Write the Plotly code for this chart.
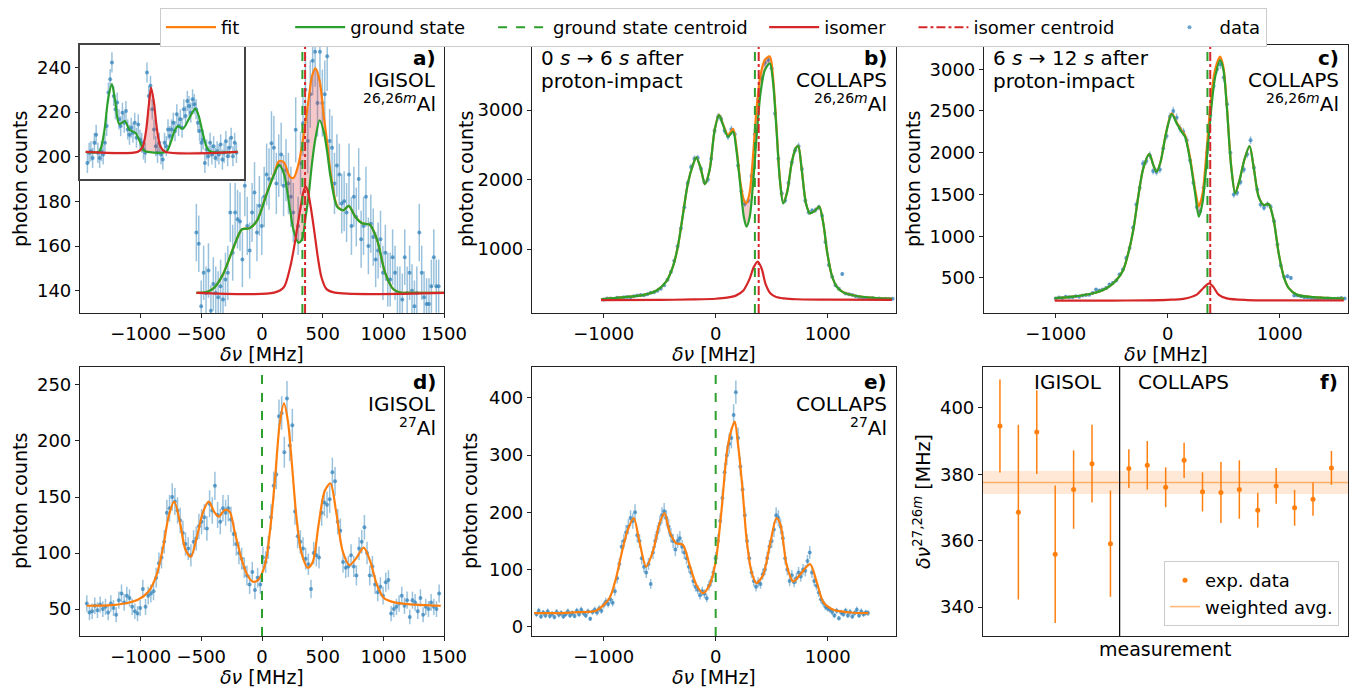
import numpy as np
import plotly.graph_objects as go

W, H = 1353, 688
FONT = "DejaVu Sans"
BLUE, ORANGE, GREEN, RED = "#1f77b4", "#ff7f0e", "#2ca02c", "#d62728"
DATA_MK = "rgba(31,119,180,0.65)"
DATA_ER = "rgba(31,119,180,0.45)"
PINK = "rgba(214,39,40,0.25)"

# ---------------- panel a : IGISOL 26,26mAl ----------------
a_scan = (-541, 1456)
a_counts = [166, 161, 133, 148, 139, 149, 131, 143, 139, 137,
            142, 136, 145, 148, 175, 157, 175, 172, 171, 154,
            187, 169, 158, 175, 184, 166, 178, 169, 182, 192,
            190, 206, 204, 188, 196, 201, 187, 194, 188, 182,
            175, 212, 169, 197, 215, 230, 207, 228, 243, 247,
            224, 247, 224, 228, 245, 207, 204, 188, 196, 192,
            179, 180, 175, 192, 169, 182, 173, 190, 163, 169,
            182, 160, 170, 164, 154, 158, 163, 148, 157, 145,
            145, 155, 148, 139, 139, 136, 155, 139, 148, 140,
            133, 139, 166, 148, 137, 134, 134, 142, 155, 142,
            142]
a_curve_x = [-540, -450, -400, -320, -230, -165, -100, -40, 40, 100,
             140, 180, 230, 260, 300, 330, 357, 385, 412, 440,
             475, 510, 540, 565, 620, 670, 715, 770, 825, 890,
             950, 1015, 1085, 1140, 1250, 1500]
a_ground = [139, 139.5, 141, 147.5, 160, 167.5, 168, 171.5, 183.5, 192,
            196.3, 192.5, 176.5, 167, 161.5, 163, 172, 183, 197, 208,
            216.3, 211, 201, 191, 177.5, 176, 178, 173, 170.2, 169.5,
            162.5, 148, 140.5, 139.2, 139, 139]
a_fit = [139, 139.5, 141, 147.5, 160, 167.5, 168, 171.5, 183.8, 192.5,
         198, 197.5, 191, 190.5, 196.5, 205, 215, 226, 236, 239.5,
         234, 218, 205, 193, 178, 176, 178, 173, 170.2, 169.5,
         162.5, 148, 140.5, 139.2, 139, 139]
a_iso_x = [-540, 100, 180, 230, 260, 290, 320, 340, 358, 375, 400, 430, 460, 490, 530, 600, 1500]
a_iso = [139, 139.1, 141.5, 150, 158, 168, 178, 184, 186.6, 185, 178, 167, 155, 146, 140.8, 139.1, 139]
a_gs_centroid, a_iso_centroid = 333, 355
a_yrange = [130, 250]
a_yticks = [140, 160, 180, 200, 220, 240]

# inset of panel a (arbitrary units)
ins_scan = (-1456, 1452)
ins_counts = [12, 19.5, 20.75, 15.75, 27, 33, 19.5, 15.75, 20.75, 18.25,
              27, 39.5, 64.5, 74.5, 87, 62, 52, 57, 44.5, 39.5,
              49.5, 42, 50.75, 37, 33, 38.25, 34.5, 42, 30.75, 40.75,
              29.5, 27, 22, 19.5, 79.5, 62, 69.5, 52, 37, 24.5,
              19.5, 27, 18.25, 14.5, 27, 24.5, 37, 32, 37, 42,
              35.75, 48.25, 39.5, 44.5, 38.25, 52, 47, 58.25, 54.5, 49.5,
              59.5, 55.75, 52, 42, 35.75, 27, 29.5, 12, 22, 17,
              27, 18.25, 24.5, 15.75, 20.75, 18.25, 25.75, 14.5, 19.5, 28.25,
              17, 23.25, 30.75, 17, 27, 19.5]
ins_err = 7.5
ins_ground_x = [-1489, -1227, -1129, -1050, -978, -913, -834, -723, -638, -507, -422, -357, -278,
                82, 167, 245, 311, 409, 540, 651, 717, 802, 887, 965, 1476]
ins_ground = [20.25, 20.5, 35, 60, 70.75, 58, 41, 43.25, 37, 34, 27, 21.5, 20.25,
              20.25, 27, 35.75, 39.5, 37.5, 46, 52.5, 47, 33, 22.5, 20.25, 20.25]
ins_iso_x = [-1489, -474, -376, -311, -258, -213, -160, -101, -29, 62, 1476]
ins_iso = [20.25, 20.25, 24, 36, 55, 68.25, 58, 38, 24, 20.3, 20.25]
ins_base = 20.25

# ---------------- panel b : COLLAPS 0-6 s ----------------
b_scan = (-1000, 30)
b_counts = [275, 290, 290, 285, 300, 295, 305, 310, 305, 320,
            330, 340, 335, 350, 370, 380, 400, 430, 480, 560,
            670, 830, 1040, 1300, 1600, 1950, 2180, 2300, 2310, 2150,
            1960, 2000, 2300, 2700, 2900, 2870, 2700, 2620, 2720, 2650,
            2200, 1830, 1650, 1700, 2050, 2650, 3150, 3450, 3680, 3720,
            3600, 2950, 2300, 1800, 1700, 1950, 2250, 2420, 2480, 2150,
            1700, 1530, 1550, 1560, 1600, 1480, 1100, 770, 600, 480,
            430, 640, 360, 350, 340, 320, 310, 300, 300, 290,
            295, 280, 290, 280, 285, 280, 285]
b_curve_x = [-1024, -830, -651, -531, -442, -382, -337, -293, -248, -203,
             -173, -134, -96, -54, -9, 30, 66, 110, 155, 185,
             221, 251, 275, 304, 334, 364, 400, 439, 484, 513,
             543, 573, 603, 639, 678, 714, 737, 767, 806, 842,
             887, 925, 961, 997, 1036, 1081, 1140, 1260, 1439, 1573]
b_ground = [276, 305, 338, 400, 530, 746, 1043, 1489, 1945, 2209,
            2319, 2161, 1935, 2137, 2712, 2928, 2784, 2616, 2688, 2424,
            1897, 1465, 1321, 1465, 1945, 2592, 3240, 3576, 3671, 3384,
            2712, 1993, 1657, 1825, 2233, 2448, 2482, 2161, 1657, 1513,
            1552, 1609, 1369, 938, 626, 458, 377, 324, 295, 285]
b_fit = [276, 305, 338, 400, 530, 746, 1043, 1489, 1945, 2209,
         2319, 2161, 1935, 2140, 2715, 2935, 2795, 2640, 2730, 2470,
         1960, 1710, 1660, 1820, 2350, 3000, 3500, 3720, 3770, 3450,
         2750, 2015, 1665, 1828, 2235, 2450, 2484, 2162, 1658, 1514,
         1553, 1610, 1370, 939, 627, 459, 378, 325, 296, 286]
b_iso_x = [-1024, -500, -200, 0, 100, 180, 245, 300, 340, 375, 410, 445, 490, 540, 610, 722, 1000, 1573]
b_iso = [266, 268, 275, 285, 300, 330, 400, 560, 740, 818, 720, 500, 360, 310, 290, 278, 271, 268]
b_gs_centroid, b_iso_centroid = 350, 384
b_yrange = [80, 3935]
b_yticks = [1000, 2000, 3000]

# ---------------- panel c : COLLAPS 6-12 s ----------------
c_scan = (-1000, 30)
c_counts = [255, 265, 260, 275, 270, 270, 280, 275, 290, 295,
            300, 320, 360, 350, 360, 380, 420, 440, 470, 540,
            600, 740, 860, 1100, 1380, 1580, 1870, 1900, 1970, 1780,
            1770, 1800, 2050, 2200, 2430, 2500, 2420, 2290, 2250, 2150,
            1910, 1640, 1350, 1300, 1580, 2000, 2450, 2800, 3000, 3060,
            2900, 2580, 2000, 1500, 1520, 1650, 1800, 1980, 2150, 1820,
            1560, 1380, 1340, 1380, 1350, 1180, 900, 650, 510, 520,
            500, 290, 290, 280, 270, 265, 260, 255, 250, 255,
            250, 255, 245, 250, 255, 260, 255]
c_curve_x = [-1009, -845, -666, -546, -457, -397, -352, -307, -263, -218,
             -164, -128, -99, -63, -15, 36, 81, 125, 155, 200,
             245, 278, 310, 349, 385, 424, 469, 498, 528, 567,
             603, 642, 684, 731, 767, 812, 857, 901, 946, 991,
             1036, 1081, 1155, 1304, 1573]
c_ground = [257, 277, 317, 377, 476, 596, 795, 1074, 1473, 1812,
            1983, 1852, 1772, 1892, 2230, 2462, 2350, 2250, 2191, 1912,
            1513, 1234, 1393, 1912, 2470, 2908, 3108, 2988, 2549, 1832,
            1513, 1672, 1912, 2079, 1832, 1473, 1373, 1385, 1194, 795,
            516, 377, 297, 269, 253]
c_fit = [257, 277, 317, 377, 476, 596, 795, 1074, 1473, 1812,
         1983, 1852, 1773, 1895, 2235, 2470, 2360, 2265, 2210, 1940,
         1560, 1360, 1500, 2050, 2620, 3000, 3150, 3020, 2570, 1842,
         1517, 1674, 1913, 2080, 1833, 1474, 1374, 1386, 1195, 796,
         517, 378, 298, 270, 254]
c_iso_x = [-1009, -500, -200, 0, 140, 260, 319, 370, 409, 454, 528, 707, 1000, 1573]
c_iso = [228, 229, 232, 238, 250, 300, 380, 436, 390, 300, 255, 235, 231, 230]
c_gs_centroid, c_iso_centroid = 355, 380
c_yrange = [80, 3290]
c_yticks = [500, 1000, 1500, 2000, 2500, 3000]

# ---------------- panel d : IGISOL 27Al ----------------
d_scan = (-1444, 22)
d_counts = [55, 47, 48, 53, 49, 54, 50, 52, 47, 55,
            51, 45, 58, 64, 56, 62, 60, 52, 48, 46,
            51, 68, 52, 62, 64, 66, 78, 91, 96, 110,
            136, 140, 150, 146, 138, 129, 118, 108, 104, 98,
            110, 113, 124, 128, 132, 122, 144, 138, 160, 134,
            128, 140, 136, 140, 130, 117, 108, 100, 95, 87,
            80, 72, 83, 67, 78, 72, 96, 92, 105, 132,
            160, 170, 222, 225, 190, 238, 196, 214, 137, 115,
            110, 104, 95, 90, 68, 100, 98, 96, 136, 145,
            143, 148, 172, 164, 128, 120, 92, 87, 88, 98,
            88, 80, 104, 110, 123, 100, 80, 88, 72, 65,
            70, 62, 74, 76, 46, 50, 52, 55, 62, 53,
            58, 43, 58, 56, 48, 60, 45, 52, 50, 56,
            52, 50, 64]
d_curve_x = [-1444, -1238, -1101, -1019, -937, -869, -814, -767, -723, -677,
             -630, -586, -540, -485, -438, -395, -356, -307, -266, -225,
             -170, -121, -74, -33, 0, 36, 77, 110, 145, 181,
             214, 247, 282, 323, 378, 419, 466, 515, 564, 611,
             666, 721, 775, 838, 893, 948, 1008, 1091, 1228, 1474]
d_fit = [53, 53.6, 55.7, 58.6, 65.5, 80.4, 105.7, 134, 145.8, 128,
         102.7, 96.7, 113, 136.9, 145.8, 136.9, 132.5, 138.4, 136.9, 119,
         95.2, 80.4, 74.4, 75.9, 81.9, 95.2, 131, 169.6, 214.3, 233.6,
         217.3, 178.6, 134, 101.2, 86.9, 92.3, 125, 154.8, 162.2, 136.9,
         101.2, 89.3, 95.2, 104.8, 92.3, 71.4, 59.5, 56, 54.2, 53]
d_centroid = 0
d_yrange = [26, 266]
d_yticks = [50, 100, 150, 200, 250]

# ---------------- panel e : COLLAPS 27Al ----------------
e_scan = (-1600, 20)
e_counts = [22, 28, 18, 25, 20, 27, 19, 23, 17, 26,
            21, 24, 18, 22, 27, 20, 24, 19, 28, 22,
            30, 24, 20, 27, 14, 26, 30, 25, 32, 28,
            38, 44, 40, 48, 42, 62, 85, 110, 140, 150,
            165, 175, 190, 185, 200, 160, 150, 120, 105, 95,
            110, 75, 130, 150, 165, 180, 195, 202, 190, 175,
            160, 150, 135, 150, 155, 140, 130, 120, 105, 95,
            80, 70, 65, 55, 62, 58, 50, 72, 80, 95,
            120, 150, 185, 225, 270, 300, 320, 330, 370, 410,
            330, 280, 240, 195, 150, 120, 95, 80, 70, 78,
            75, 92, 100, 120, 140, 150, 170, 195, 190, 175,
            155, 120, 100, 80, 90, 78, 85, 95, 88, 100,
            98, 115, 130, 95, 80, 72, 60, 48, 42, 35,
            32, 30, 26, 20, 28, 15, 25, 22, 28, 20,
            26, 18, 24, 30, 20, 27, 22, 25, 24]
e_curve_x = [-1621, -1367, -1218, -1069, -949, -890, -836, -785, -731, -681,
             -621, -561, -501, -457, -412, -352, -293, -233, -173, -113,
             -54, 0, 51, 101, 140, 170, 200, 239, 275, 319,
             364, 424, 484, 543, 579, 633, 693, 752, 842, 901,
             961, 1051, 1200, 1364]
e_fit = [24, 24, 25.6, 28, 50, 85, 131.6, 169.4, 190, 149,
         105.4, 131.6, 181, 198.6, 166.5, 146, 143.3, 108.3, 73.4, 58.8,
         73.4, 114.1, 201.5, 306, 344, 358.7, 318, 242, 155, 96.7,
         76.3, 90.9, 143.3, 189.8, 178.2, 108.3, 79.2, 90.9, 109.5, 79.2,
         43.1, 29.7, 25.1, 24]
e_centroid = 0
e_yrange = [-16, 454]
e_yticks = [0, 100, 200, 300, 400]

# ---------------- panel f : isomer shift per measurement ----------------
f_index = list(range(19))
f_shift = [394.5, 368.6, 392.7, 355.9, 375.4, 383.2, 359.1,
           381.7, 382.7, 376.1, 384.2, 374.7, 374.5, 375.4, 369.2, 376.5, 369.9, 372.5, 381.9]
f_err = [14.0, 26.3, 12.6, 20.7, 11.8, 11.7, 16.0,
         5.8, 7.3, 6.0, 5.3, 5.9, 9.2, 8.8, 5.2, 5.4, 5.4, 5.0, 5.1]
f_avg, f_avg_err = 377.5, 3.45
f_split = 6.5
f_xrange = [-0.92, 18.9]
f_yrange = [331.3, 412.3]
f_yticks = [340, 360, 380, 400]

XR_IGISOL = [-1500, 1500]
XR_COLLAPS = [-1640, 1610]
XT_IGISOL = [-1000, -500, 0, 500, 1000, 1500]
XT_COLLAPS = [-1000, 0, 1000]

# ---------------- figure ----------------
def fx(p):
    return p / W


def fy(p):
    return 1 - p / H


def scan_x(scan, n):
    return scan[0] + scan[1] * np.arange(n)


fig = go.Figure()


def ax_ids(k):
    return ("x" + k, "y" + k)


def add_data(x, y, err, k, legend=False):
    xa, ya = ax_ids(k)
    fig.add_trace(go.Scatter(
        x=x, y=y, mode="markers", name="data", legendrank=6, showlegend=legend,
        marker=dict(size=4, color=DATA_MK),
        error_y=dict(type="data", array=err, visible=True, color=DATA_ER, thickness=1.5, width=0),
        xaxis=xa, yaxis=ya, hoverinfo="skip"))


def add_line(x, y, color, k, name="", legend=False, rank=1, width=2.2, dash="solid", shape="spline"):
    xa, ya = ax_ids(k)
    fig.add_trace(go.Scatter(
        x=x, y=y, mode="lines", name=name, legendrank=rank, showlegend=legend,
        line=dict(color=color, width=width, dash=dash, shape=shape, smoothing=0.8),
        xaxis=xa, yaxis=ya, hoverinfo="skip"))


def add_fill(x, lower, upper, k):
    xa, ya = ax_ids(k)
    fig.add_trace(go.Scatter(x=x, y=lower, mode="lines", line=dict(width=0, shape="spline", smoothing=0.8),
                             showlegend=False, xaxis=xa, yaxis=ya, hoverinfo="skip"))
    fig.add_trace(go.Scatter(x=x, y=upper, mode="lines", line=dict(width=0, shape="spline", smoothing=0.8),
                             fill="tonexty", fillcolor=PINK, showlegend=False, xaxis=xa, yaxis=ya,
                             hoverinfo="skip"))


def pad(n):
    return "\u00a0" * n


# panel a
ax_a = np.linspace(a_scan[0], a_scan[1], len(a_counts))
add_data(ax_a, a_counts, np.sqrt(a_counts), "", legend=True)
add_fill(a_curve_x, a_ground, a_fit, "")
add_line(a_curve_x, a_fit, ORANGE, "", name="fit" + pad(8), legend=True, rank=1)
add_line(a_curve_x, a_ground, GREEN, "", name="ground state" + pad(4), legend=True, rank=2)
add_line(a_iso_x, a_iso, RED, "", name="isomer" + pad(4), legend=True, rank=4)
add_line([a_gs_centroid] * 2, a_yrange, GREEN, "", name="ground state centroid" + pad(2), legend=True,
         rank=3, width=2, dash="dash", shape="linear")
add_line([a_iso_centroid] * 2, a_yrange, RED, "", name="isomer centroid" + pad(7), legend=True,
         rank=5, width=2, dash="dashdot", shape="linear")

# inset
ax_i = np.linspace(ins_scan[0], ins_scan[1], len(ins_counts))
fig.add_trace(go.Scatter(x=ax_i, y=ins_counts, mode="markers", showlegend=False,
                         marker=dict(size=4, color=DATA_MK),
                         error_y=dict(type="constant", value=ins_err, color=DATA_ER, thickness=1.5, width=0),
                         xaxis="x7", yaxis="y7", hoverinfo="skip"))
fig.add_trace(go.Scatter(x=[ins_iso_x[0], ins_iso_x[-1]], y=[ins_base, ins_base], mode="lines",
                         line=dict(width=0), showlegend=False, xaxis="x7", yaxis="y7", hoverinfo="skip"))
fig.add_trace(go.Scatter(x=ins_iso_x, y=ins_iso, mode="lines", line=dict(width=0, shape="spline", smoothing=0.8),
                         fill="tonexty", fillcolor=PINK, showlegend=False, xaxis="x7", yaxis="y7",
                         hoverinfo="skip"))
add_line(ins_ground_x, ins_ground, GREEN, "7")
add_line(ins_iso_x, ins_iso, RED, "7")

# panel b
bx = scan_x(b_scan, len(b_counts))
add_data(bx, b_counts, np.sqrt(b_counts), "2")
add_fill(b_curve_x, b_ground, b_fit, "2")
add_line(b_curve_x, b_fit, ORANGE, "2")
add_line(b_curve_x, b_ground, GREEN, "2")
add_line(b_iso_x, b_iso, RED, "2")
add_line([b_gs_centroid] * 2, b_yrange, GREEN, "2", width=2, dash="dash", shape="linear")
add_line([b_iso_centroid] * 2, b_yrange, RED, "2", width=2, dash="dashdot", shape="linear")

# panel c
cx = scan_x(c_scan, len(c_counts))
add_data(cx, c_counts, np.sqrt(c_counts), "3")
add_fill(c_curve_x, c_ground, c_fit, "3")
add_line(c_curve_x, c_fit, ORANGE, "3")
add_line(c_curve_x, c_ground, GREEN, "3")
add_line(c_iso_x, c_iso, RED, "3")
add_line([c_gs_centroid] * 2, c_yrange, GREEN, "3", width=2, dash="dash", shape="linear")
add_line([c_iso_centroid] * 2, c_yrange, RED, "3", width=2, dash="dashdot", shape="linear")

# panel d
dx = scan_x(d_scan, len(d_counts))
add_data(dx, d_counts, np.sqrt(d_counts), "4")
add_line(d_curve_x, d_fit, ORANGE, "4")
add_line([d_centroid] * 2, d_yrange, GREEN, "4", width=2, dash="dash", shape="linear")

# panel e
ex = scan_x(e_scan, len(e_counts))
add_data(ex, e_counts, np.sqrt(e_counts), "5")
add_line(e_curve_x, e_fit, ORANGE, "5")
add_line([e_centroid] * 2, e_yrange, GREEN, "5", width=2, dash="dash", shape="linear")

# panel f
fig.add_trace(go.Scatter(x=f_xrange, y=[f_avg - f_avg_err] * 2, mode="lines", line=dict(width=0),
                         showlegend=False, xaxis="x6", yaxis="y6", hoverinfo="skip"))
fig.add_trace(go.Scatter(x=f_xrange, y=[f_avg + f_avg_err] * 2, mode="lines", line=dict(width=0),
                         fill="tonexty", fillcolor="rgba(255,127,14,0.17)", showlegend=False,
                         xaxis="x6", yaxis="y6", hoverinfo="skip"))
fig.add_trace(go.Scatter(x=f_xrange, y=[f_avg] * 2, mode="lines", name="weighted avg.",
                         line=dict(color="rgba(255,127,14,0.55)", width=1.6), legend="legend2",
                         legendrank=2, xaxis="x6", yaxis="y6", hoverinfo="skip"))
fig.add_trace(go.Scatter(x=[f_split] * 2, y=f_yrange, mode="lines", line=dict(color="black", width=1.2),
                         showlegend=False, xaxis="x6", yaxis="y6", hoverinfo="skip"))
fig.add_trace(go.Scatter(x=f_index, y=f_shift, mode="markers", name="exp. data", legend="legend2",
                         legendrank=1, marker=dict(size=5, color=ORANGE),
                         error_y=dict(type="data", array=f_err, visible=True, color=ORANGE, thickness=1.5, width=0),
                         xaxis="x6", yaxis="y6", hoverinfo="skip"))

# ---------------- axes ----------------
AX_STYLE = dict(showline=True, linecolor="#222", linewidth=1.2, mirror=True, ticks="outside",
                ticklen=4, tickwidth=1.2, tickcolor="#222", showgrid=False, zeroline=False,
                automargin=False, tickfont=dict(size=18, family=FONT, color="black"))


def tt(vals):
    return [str(v).replace("-", "\u2212") for v in vals]


def xaxis(px0, px1, rng, ticks, anchor):
    d = dict(AX_STYLE)
    d.update(domain=[fx(px0), fx(px1)], range=rng, anchor=anchor)
    if ticks is None:
        d.update(ticks="", showticklabels=False)
    else:
        d.update(tickvals=ticks, ticktext=tt(ticks))
    return d


def yaxis(py0, py1, rng, ticks, anchor):
    d = dict(AX_STYLE)
    d.update(domain=[fy(py1), fy(py0)], range=rng, anchor=anchor, tickvals=ticks, ticktext=tt(ticks))
    return d


TOP = (45, 313)
BOT = (367, 636)
COL = [(80, 444), (532, 896), (984, 1348)]

layout = dict(
    xaxis=xaxis(*COL[0], XR_IGISOL, XT_IGISOL, "y"),
    yaxis=yaxis(*TOP, a_yrange, a_yticks, "x"),
    xaxis2=xaxis(*COL[1], XR_COLLAPS, XT_COLLAPS, "y2"),
    yaxis2=yaxis(*TOP, b_yrange, b_yticks, "x2"),
    xaxis3=xaxis(*COL[2], XR_COLLAPS, XT_COLLAPS, "y3"),
    yaxis3=yaxis(*TOP, c_yrange, c_yticks, "x3"),
    xaxis4=xaxis(*COL[0], XR_IGISOL, XT_IGISOL, "y4"),
    yaxis4=yaxis(*BOT, d_yrange, d_yticks, "x4"),
    xaxis5=xaxis(*COL[1], XR_COLLAPS, XT_COLLAPS, "y5"),
    yaxis5=yaxis(*BOT, e_yrange, e_yticks, "x5"),
    xaxis6=xaxis(983, 1348, f_xrange, None, "y6"),
    yaxis6=yaxis(*BOT, f_yrange, f_yticks, "x6"),
)
ins_x = dict(AX_STYLE)
ins_x.update(domain=[fx(80), fx(244)], range=[-1600, 1600], anchor="y7", ticks="", showticklabels=False,
             linecolor="#444", linewidth=1.6)
ins_y = dict(AX_STYLE)
ins_y.update(domain=[fy(179), fy(45)], range=[0, 100], anchor="x7", ticks="", showticklabels=False,
             linecolor="#444", linewidth=1.6)
layout["xaxis7"] = ins_x
layout["yaxis7"] = ins_y

# ---------------- text ----------------
anns = []


def ann(x, y, text, xanchor="center", size=20, angle=0):
    anns.append(dict(x=fx(x), y=fy(y), xref="paper", yref="paper", text=text, showarrow=False,
                     xanchor=xanchor, yanchor="middle", textangle=angle, borderpad=0,
                     font=dict(size=size, family=FONT, color="black")))


for xr, y0, lab, fac, iso in [(437, 58, "a)", "IGISOL", "26,26<i>m</i>"),
                              (888, 58, "b)", "COLLAPS", "26,26<i>m</i>"),
                              (1340, 58, "c)", "COLLAPS", "26,26<i>m</i>"),
                              (437, 382, "d)", "IGISOL", "27"),
                              (888, 382, "e)", "COLLAPS", "27")]:
    ann(xr, y0, "<b>" + lab + "</b>", "right")
    ann(xr, y0 + 22, fac, "right")
    ann(xr, y0 + 45, "<sup>" + iso + "</sup>Al", "right")

ann(540, 58, "0 <i>s</i> \u2192 6 <i>s</i> after", "left")
ann(540, 81, "proton-impact", "left")
ann(992, 58, "6 <i>s</i> \u2192 12 <i>s</i> after", "left")
ann(992, 81, "proton-impact", "left")
ann(1339, 382, "<b>f)</b>", "right")
ann(1068, 382, "IGISOL")
ann(1183, 382, "COLLAPS")

XT = "<i>\u03b4\u03bd</i> [MHz]"
for cx_, y_ in [(262, 354), (714, 354), (1166, 354), (262, 677), (714, 677)]:
    ann(cx_, y_, XT, size=19)
ann(1165, 649, "measurement", size=19)
for x_, y_ in [(20, 179), (466, 179), (913, 179), (20, 501), (470, 501)]:
    ann(x_, y_, "photon counts", size=19, angle=-90)
ann(922, 501, "<i>\u03b4\u03bd</i><sup>27,26<i>m</i></sup> [MHz]", size=19, angle=-90)

fig.update_layout(
    **layout,
    annotations=anns,
    width=W, height=H, autosize=False,
    margin=dict(l=0, r=0, t=0, b=0, pad=0, autoexpand=False),
    paper_bgcolor="white", plot_bgcolor="white",
    font=dict(family=FONT, size=18, color="black"),
    showlegend=True,
    legend=dict(orientation="h", x=fx(160), xanchor="left", y=fy(8), yanchor="top",
                bordercolor="#cccccc", borderwidth=1, bgcolor="white", itemwidth=50,
                font=dict(size=18, family=FONT, color="black"), traceorder="normal"),
    legend2=dict(x=fx(1339), xanchor="right", y=fy(626), yanchor="bottom",
                 bordercolor="#cccccc", borderwidth=1, bgcolor="rgba(255,255,255,0.8)",
                 font=dict(size=18, family=FONT, color="black")),
)

fig.write_html("out.html", config={"displayModeBar": False, "responsive": False},
               post_script="document.body.style.margin='0';document.body.style.overflow='hidden';"
                           "document.documentElement.style.overflow='hidden';")
